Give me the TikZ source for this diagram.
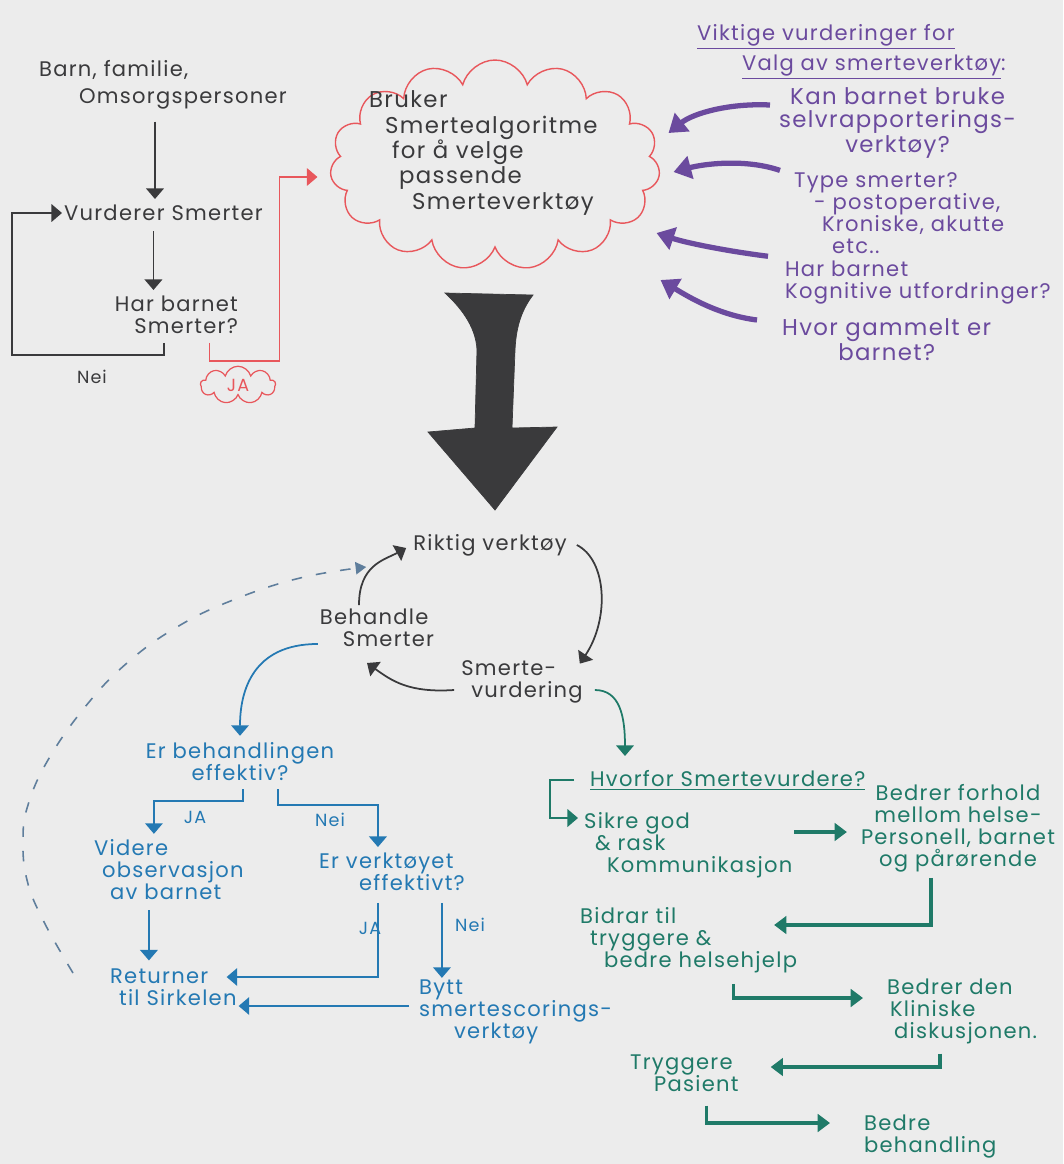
\documentclass[tikz,border=0pt]{standalone}
\usepackage{fontspec}
\setmainfont{Poppins}[LetterSpace=6]
\usetikzlibrary{arrows.meta,shapes.symbols,calc,positioning}

\definecolor{papir}{HTML}{ECECEC}
\definecolor{blekk}{HTML}{3A3A3C}
\definecolor{rod}{HTML}{E8575C}
\definecolor{lilla}{HTML}{6B4A9E}
\definecolor{blaa}{HTML}{2479B3}
\definecolor{gronn}{HTML}{1F7A68}
\definecolor{stipla}{HTML}{5F7E9C}

\newcommand{\handfont}{\fontsize{12}{12.5}\selectfont}
\newcommand{\storfont}{\fontsize{13}{13}\selectfont}
\newcommand{\skyfont}{\fontsize{13}{14.5}\selectfont}
\newcommand{\litenfont}{\fontsize{10}{11}\selectfont}

\tikzset{
  skrift/.style={font=\handfont, inner sep=1pt},
  storskrift/.style={font=\storfont, inner sep=1pt},
  etikett/.style={font=\litenfont, inner sep=1pt},
  strek/.style={line width=1pt, -{Triangle[width=10pt,length=6pt]}},
  tykkstrek/.style={line width=1.8pt, -{Triangle[width=10pt,length=7pt]}},
  lillapil/.style={lilla, line width=3pt, -{Triangle[width=13pt,length=10pt]}},
  stiplet/.style={stipla, line width=0.9pt, dash pattern=on 6pt off 8pt, -{Triangle[width=7pt,length=6pt]}}
}

\begin{document}
\begin{tikzpicture}[x=0.02cm, y=-0.02cm]

\fill[papir] (0,0) rectangle (1063,1164);
\useasboundingbox (0,0) rectangle (1063,1164);

\node[skrift, blekk, anchor=west, align=left] (barn) at (37,85) {Barn, familie,\\[3pt]\hspace*{0.8cm}Omsorgspersoner};
\node[skrift, blekk, anchor=west] (vurd) at (62,213) {Vurderer Smerter};
\node[skrift, blekk, anchor=east, align=right] (har) at (240,315) {Har barnet\\Smerter?};
\node[etikett, blekk] (nei1) at (92,377) {Nei};
\node[cloud, cloud puffs=9, cloud ignores aspect, draw=rod, rod, line width=0.7pt, minimum width=1.5cm, minimum height=0.75cm, inner sep=0pt, font=\litenfont] (ja1) at (238,385) {JA};

\node[cloud, cloud puffs=15, cloud ignores aspect, draw=rod, line width=0.8pt, minimum width=6.6cm, minimum height=4.2cm] (sky) at (495,165) {};
\node[font=\skyfont, blekk, anchor=west, align=left, inner sep=1pt] (algoritme) at (367,153) {Bruker\\\hspace*{0.32cm}Smertealgoritme\\\hspace*{0.46cm}for å velge\\\hspace*{0.6cm}passende\\\hspace*{0.86cm}Smerteverktøy};

\draw[strek, blekk] ($(barn.south)+(-8,10)$) -- ($(barn.south |- vurd.north)+(-8,-4)$);
\draw[strek, blekk] ($(vurd.south)+(-10,8)$) -- ($(vurd.south |- har.north)+(-10,-4)$);
\draw[strek, blekk] ($(har.south)+(-12,7)$) -- ++(0,12) -| ($(vurd.west)+(-50,0)$) -- (vurd.west);
\draw[strek, rod, line width=0.8pt] ($(har.south)+(33,7)$) -- ++(0,18) -- ++(70,0) |- ($(sky.west)+(-14,12)$);

\node[skrift, lilla, anchor=west, align=left] (viktig) at (695,52) {\underline{Viktige vurderinger for}\\[2pt]\hspace*{0.9cm}\underline{Valg av smerteverktøy}:};
\node[storskrift, lilla, anchor=west, align=center] (q1) at (777,123) {Kan barnet bruke\\selvrapporterings-\\verktøy?};
\node[skrift, lilla, anchor=west, align=left] (q2) at (792,213) {Type smerter?\\\hspace*{0.4cm}- postoperative,\\\hspace*{0.56cm}Kroniske, akutte\\\hspace*{0.76cm}etc..};
\node[skrift, lilla, anchor=west, align=left] (q3) at (783,283) {Har barnet\\Kognitive utfordringer?};
\node[storskrift, lilla, anchor=west, align=center] (q4) at (780,340) {Hvor gammelt er\\barnet?};

\draw[lillapil] ($(q1.west)+(-7,-18)$) .. controls +(-40,-2) and +(25,-20) .. ($(sky.east)+(10,-32)$);
\draw[lillapil] ($(q2.north west)+(-12,0)$) .. controls +(-35,-12) and +(30,-8) .. ($(sky.east)+(15,7)$);
\draw[lillapil] ($(q3.north west)+(-15,-3)$) .. controls +(-40,-5) and +(30,10) .. ($(sky.east)+(-2,68)$);
\draw[lillapil] ($(q4.west)+(-23,-20)$) .. controls +(-40,-5) and +(25,15) .. ($(sky.east)+(2,115)$);

\filldraw[fill=blekk, draw=blekk] (445,293) -- (533,295) .. controls (520,312) and (516,330) .. (515,350) -- (512,428) -- (557,427) -- (495,510) -- (428,432) -- (475,428) -- (477,350) .. controls (476,325) and (458,305) .. cycle;

\node[skrift, blekk] (riktig) at (490,545) {Riktig verktøy};
\node[skrift, blekk, align=left] (smerte) at (522,682) {Smerte-\\\hspace*{0.2cm}vurdering};
\node[skrift, blekk, align=left] (behandle) at (377,628) {Behandle\\\hspace*{0.46cm}Smerter};

\draw[strek, blekk] ($(behandle.north)+(-18,-2)$) .. controls +(0,-40) and +(-22,12) .. ($(riktig.west)+(-5,3)$);
\draw[strek, blekk] ($(riktig.east)+(8,0)$) .. controls +(30,15) and +(30,-45) .. ($(smerte.north east)+(-5,5)$);
\draw[strek, blekk] ($(smerte.west)+(-5,8)$) .. controls +(-45,3) and +(25,18) .. ($(behandle.south)+(-10,14)$);

\node[skrift, blaa, align=center] (erbeh) at (240,762) {Er behandlingen\\effektiv?};
\node[etikett, blaa] (ja2) at (195,817) {JA};
\node[etikett, blaa] (nei2) at (330,820) {Nei};
\node[skrift, blaa, anchor=west, align=left] (videre) at (92,870) {Videre\\\hspace*{0.16cm}observasjon\\\hspace*{0.32cm}av barnet};
\node[skrift, blaa, anchor=west, align=left] (returner) at (108,987) {Returner\\\hspace*{0.18cm}til Sirkelen};
\node[skrift, blaa, anchor=west, align=left] (erverk) at (317,872) {Er verktøyet\\\hspace*{0.8cm}effektivt?};
\node[etikett, blaa] (ja3) at (370,928) {JA};
\node[etikett, blaa] (nei3) at (470,925) {Nei};
\node[skrift, blaa, anchor=west, align=left] (bytt) at (417,1012) {Bytt\\smertescorings-\\\hspace*{0.7cm}verktøy};

\draw[strek, blaa] ($(behandle.south west)+(0,-5)$) .. controls +(-65,0) and +(0,-45) .. ($(erbeh.north)+(0,-5)$);
\draw[strek, blaa] ($(erbeh.south)+(3,6)$) -- ++(0,12) -| ($(videre.north)+(-15,-4)$);
\draw[strek, blaa] ($(erbeh.south)+(38,6)$) -- ++(0,16) -| ($(erverk.north)+(-14,-4)$);
\draw[strek, blaa] ($(videre.south)+(-20,8)$) -- ($(videre.south |- returner.north)+(-20,-6)$);
\draw[strek, blaa] ($(erverk.south)+(-14,10)$) |- ($(returner.east)+(-12,-10)$);
\coordinate (n3) at ($(erverk.south)+(50,10)$);
\draw[strek, blaa] (n3) -- (n3 |- bytt.north);
\coordinate (b1) at ($(bytt.west)+(-8,-6)$);
\draw[strek, blaa] (b1) -- (b1 -| returner.east);

\coordinate (dstart) at ($(returner.west)+(-35,-14)$);
\coordinate (dslutt) at ($(riktig.west)+(-45,22)$);
\draw[stiplet] plot[smooth, tension=0.7] coordinates {(dstart) (43,920) (27,880) (23,840) (28,805) (48,760) (85,707) (127,663) (177,627) (233,600) (300,578) (dslutt)};

\node[skrift, gronn, anchor=west] (hvorfor) at (588,780) {\underline{Hvorfor Smertevurdere?}};
\node[skrift, gronn, anchor=west, align=left] (sikre) at (582,845) {Sikre god\\\hspace*{0.22cm}\& rask\\\hspace*{0.46cm}Kommunikasjon};
\node[skrift, gronn, align=center] (bedrer1) at (958,828) {Bedrer forhold\\mellom helse-\\Personell, barnet\\og pårørende};
\node[skrift, gronn, anchor=west, align=left] (bidrar) at (578,940) {Bidrar til\\\hspace*{0.2cm}tryggere \&\\\hspace*{0.48cm}bedre helsehjelp};
\node[skrift, gronn, anchor=west, align=left] (bedrer2) at (885,1011) {Bedrer den\\\hspace*{0.06cm}Kliniske\\\hspace*{0.14cm}diskusjonen.};
\node[skrift, gronn, anchor=west, align=left] (trygg) at (628,1073) {Tryggere\\\hspace*{0.48cm}Pasient};
\node[skrift, gronn, anchor=west, align=left] (bedre3) at (862,1137) {Bedre\\behandling};

\draw[strek, gronn] ($(smerte.east)+(10,8)$) .. controls +(25,0) and +(0,-40) .. ($(hvorfor.north west)+(37,-12)$);
\draw[strek, gronn] ($(hvorfor.west)+(-14,0)$) -- ++(-24,0) |- ($(sikre.west)+(-4,-27)$);
\coordinate (s1) at ($(sikre.east)+(0,-13)$);
\draw[tykkstrek, gronn] (s1) -- ($(s1 -| bedrer1.west)+(-12,0)$);
\draw[tykkstrek, gronn] ($(bedrer1.south)+(-27,4)$) |- ($(bidrar.east)+(-25,-15)$);
\draw[tykkstrek, gronn] ($(bidrar.south)+(45,9)$) |- ($(bedrer2.west)+(-22,-13)$);
\draw[tykkstrek, gronn] ($(bedrer2.south)+(-22,8)$) |- ($(trygg.east)+(30,-6)$);
\draw[tykkstrek, gronn] ($(trygg.south)+(22,12)$) |- ($(bedre3.west)+(-32,-14)$);

\end{tikzpicture}
\end{document}
